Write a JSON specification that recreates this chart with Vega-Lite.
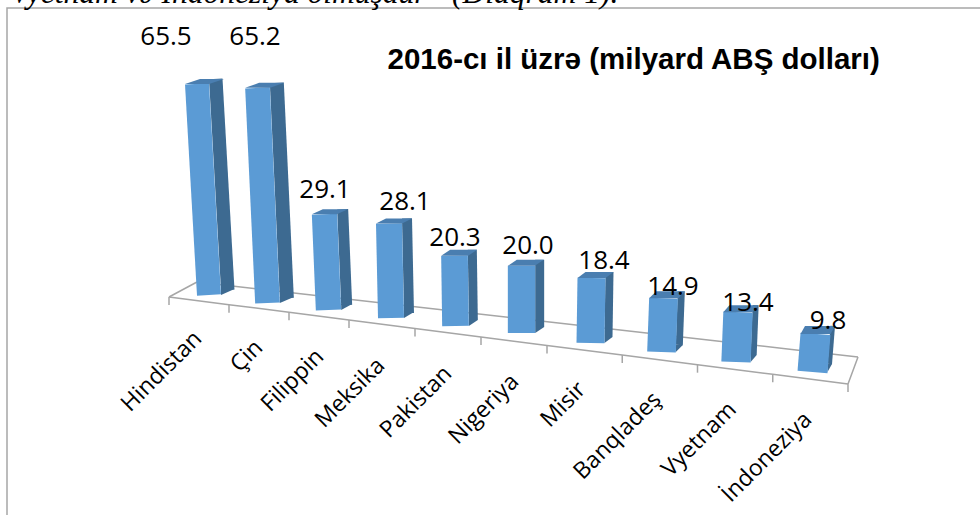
{
"$schema":"https://vega.github.io/schema/vega-lite/v6.json",
"width":975,"height":509,
"autosize":{"type":"none"},
"padding":{"left":7,"top":8,"right":0,"bottom":0},
"background":"white",
"config":{"view":{"stroke":"#a6a6a6","strokeWidth":1.5,"fill":"white"},"font":"Open Sans"},
"datasets":{
"bars":[
{"rank":1,"country":"Hindistan","value":65.5},
{"rank":2,"country":"Çin","value":65.2},
{"rank":3,"country":"Filippin","value":29.1},
{"rank":4,"country":"Meksika","value":28.1},
{"rank":5,"country":"Pakistan","value":20.3},
{"rank":6,"country":"Nigeriya","value":20.0},
{"rank":7,"country":"Misir","value":18.4},
{"rank":8,"country":"Banqladeş","value":14.9},
{"rank":9,"country":"Vyetnam","value":13.4},
{"rank":10,"country":"İndoneziya","value":9.8}],
"edges":[{"edge":0},{"edge":1},{"edge":2},{"edge":3},{"edge":4},{"edge":5},{"edge":6},{"edge":7},{"edge":8},{"edge":9},{"edge":10}]
},
"resolve":{"scale":{"x":"independent","y":"independent","size":"independent","shape":"independent"}},
"layer":[
{"data":{"name":"edges"},"mark":{"type":"line","color":"#a6a6a6","strokeWidth":1.5},
 "encoding":{
  "x":{"field":"edge","type":"quantitative","scale":{"domain":[0,10],"range":[190,851]},
   "axis":{"orient":"top","title":"Vyetnam və İndoneziya olmuşdur” (Diaqram 1).","titleFont":"Liberation Serif","titleFontStyle":"italic","titleFontWeight":"normal","titleFontSize":31.5,"titleColor":"#000000","titleAlign":"left","titleBaseline":"alphabetic","titleAnchor":"start","titleX":3,"titleY":-6,"labels":false,"ticks":false,"domain":false,"grid":false}},
  "y":{"field":"edge","type":"quantitative","scale":{"domain":[0,10],"range":[274,349]},"axis":null}}},
{"data":{"name":"edges"},"mark":{"type":"line","color":"#a6a6a6","strokeWidth":1.5},
 "encoding":{
  "x":{"field":"edge","type":"quantitative","scale":{"domain":[0,3,6,10],"range":[162,342,540,841]},
   "axis":{"orient":"top","title":"2016-cı il üzrə (milyard ABŞ dolları)","titleFont":"Liberation Sans","titleFontWeight":"bold","titleFontSize":29.5,"titleColor":"#000000","titleAlign":"left","titleBaseline":"alphabetic","titleAnchor":"start","titleX":380,"titleY":60,"labels":false,"ticks":false,"domain":false,"grid":false}},
  "y":{"field":"edge","type":"quantitative","scale":{"domain":[0,3,6,10],"range":[289,312,337.4,376]},"axis":null}}},
{"data":{"name":"edges"},"mark":{"type":"point","filled":false,"size":4,"opacity":1,"color":"#a6a6a6","strokeWidth":1.5},
 "encoding":{
  "x":{"field":"edge","type":"quantitative","scale":{"domain":[0,3,6,10],"range":[162,342,540,841]},"axis":null},
  "y":{"field":"edge","type":"quantitative","scale":{"domain":[0,3,6,10],"range":[289,312,337.4,376]},"axis":null},
  "shape":{"field":"edge","type":"nominal","legend":null,"scale":{"domain":[0,1,2,3,4,5,6,7,8,9,10],"range":["M0,0L0,8M0,0L28,-15","M0,0L0,8","M0,0L0,8","M0,0L0,8","M0,0L0,8","M0,0L0,8","M0,0L0,8","M0,0L0,8","M0,0L0,8","M0,0L0,8","M0,0L0,8M0,0L10,-27"]}}}},
{"data":{"name":"bars"},"mark":{"type":"rule","color":"#3D6A91","strokeCap":"butt",
  "yOffset":{"expr":"[0,3,12,18,24,33,40,48,57,66][datum.rank-1]"},
  "y2Offset":{"expr":"[-5,3,10,18,25,32,42,50,60,69][datum.rank-1]"},
  "xOffset":{"expr":"[-12,-10,-4,-2,-1,0,1,2,2,3][datum.rank-1]"}},
 "encoding":{
  "x":{"field":"rank","type":"quantitative","scale":{"domain":[1,2,3,4,5,6,7,8,9,10],"range":[220.75,279.83,339.67,402,466.33,532.67,601.5,672.33,746.67,822.75]},"axis":null},
  "x2":{"field":"rank"},
  "y":{"field":"value","type":"quantitative","scale":{"domain":[-1,65.5],"range":[287,70.9]},"axis":null},
  "y2":{"datum":-1},
  "size":{"field":"rank","type":"quantitative","legend":null,"scale":{"domain":[1,2,3,4,5,6,7,8,9,10],"range":[13.5,14,11,10,9,9,8,7,6,4.5]}}}},
{"data":{"name":"bars"},"mark":{"type":"point","filled":true,"size":4,"opacity":1,"color":"#3D6A91","yOffset":{"expr":"[0,8,15,23,31,38,48,57,67,77][datum.rank-1]"}},
 "encoding":{
  "x":{"field":"rank","type":"quantitative","scale":{"domain":[1,2,3,4,5,6,7,8,9,10],"range":[214,272.83,334.17,397,461.83,528.17,597.5,668.83,743.67,820.5]},"axis":null},
  "y":{"datum":-1,"type":"quantitative","scale":{"domain":[-1,65.5],"range":[287,70.9]},"axis":null},
  "shape":{"field":"rank","type":"nominal","legend":null,"scale":{"domain":[1,2,3,4,5,6,7,8,9,10],"range":["M0,0L13.5,-6L0,-6Z","M0,0L14,-6L0,-6Z","M0,0L11,-6L0,-6Z","M0,0L10,-6L0,-6Z","M0,0L9,-6L0,-6Z","M0,0L9,-6L0,-6Z","M0,0L8,-6L0,-6Z","M0,0L7,-7L0,-7Z","M0,0L6,-7L0,-7Z","M0,0L4.5,-8L0,-8Z"]}}}},
{"data":{"name":"bars"},"mark":{"type":"rule","color":"#5B9BD5","strokeCap":"butt",
  "yOffset":{"expr":"[5,8,17,23,30,39,46,55,64,74][datum.rank-1]"},
  "y2Offset":{"expr":"[0,8,15,23,31,38,48,57,67,77][datum.rank-1]"},
  "xOffset":{"expr":"[-12,-10,-4,-2,-1,0,1,2,2,3][datum.rank-1]"}},
 "encoding":{
  "x":{"field":"rank","type":"quantitative","scale":{"domain":[1,2,3,4,5,6,7,8,9,10],"range":[202,260.5,321.5,384,448.5,514.5,583.5,654.5,729,805.5]},"axis":null},
  "x2":{"field":"rank"},
  "y":{"field":"value","type":"quantitative","scale":{"domain":[-1,65.5],"range":[287,70.9]},"axis":null},
  "y2":{"datum":-1},
  "size":{"field":"rank","type":"quantitative","legend":null,"scale":{"domain":[1,10],"range":[24,30]}}}},
{"data":{"name":"bars"},"mark":{"type":"point","filled":true,"size":4,"opacity":1,"color":"#4A7EB0","yOffset":{"expr":"[5,8,17,23,30,39,46,55,64,74][datum.rank-1]"}},
 "encoding":{
  "x":{"field":"rank","type":"quantitative","scale":{"domain":[1,2,3,4,5,6,7,8,9,10],"range":[178,238.17,304.83,369,434.17,500.83,570.5,642.17,716.33,793.5]},"axis":null},
  "y":{"field":"value","type":"quantitative","scale":{"domain":[-1,65.5],"range":[287,70.9]},"axis":null},
  "shape":{"field":"rank","type":"nominal","legend":null,"scale":{"domain":[1,2,3,4,5,6,7,8,9,10],"range":["M0,0L24,0L39,-5L15,-5Z","M0,0L25,0L39,-5L14,-5Z","M0,0L25,0L36,-5L11,-5Z","M0,0L26,0L36,-5L10,-5Z","M0,0L27,0L36,-6L9,-6Z","M0,0L27,0L36,-6L9,-6Z","M0,0L28,0L36,-6L8,-6Z","M0,0L29,0L36,-7L7,-7Z","M0,0L29,0L35,-7L6,-7Z","M0,0L30,0L34.5,-8L4.5,-8Z"]}}}},
{"data":{"name":"bars"},"mark":{"type":"text","font":"Open Sans","fontSize":26,"color":"#000000","align":"center","baseline":"alphabetic","yOffset":{"expr":"[-33.9,-34.9,0.8,9.6,20.2,27.3,37,51.7,62.8,69.1][datum.rank-1]"}},
 "encoding":{
  "x":{"field":"rank","type":"quantitative","scale":{"domain":[1,2,3,4,5,6,7,8,9,10],"range":[159,248,318,398,448,521,597,666,741,821]},"axis":null},
  "y":{"field":"value","type":"quantitative","scale":{"domain":[-1,65.5],"range":[287,70.9]},"axis":null},
  "text":{"field":"value","type":"quantitative","format":".1f"}}},
{"data":{"name":"bars"},"mark":{"type":"text","font":"Open Sans","fontSize":23,"color":"#000000","align":"right","baseline":"middle","angle":315},
 "encoding":{
  "x":{"field":"rank","type":"quantitative","scale":{"domain":[1,4,7,10],"range":[191,374,575,801]},"axis":null},
  "y":{"field":"rank","type":"quantitative","scale":{"domain":[1,4,7,10],"range":[327,354,378,408]},"axis":null},
  "text":{"field":"country","type":"nominal"}}}
]
}
